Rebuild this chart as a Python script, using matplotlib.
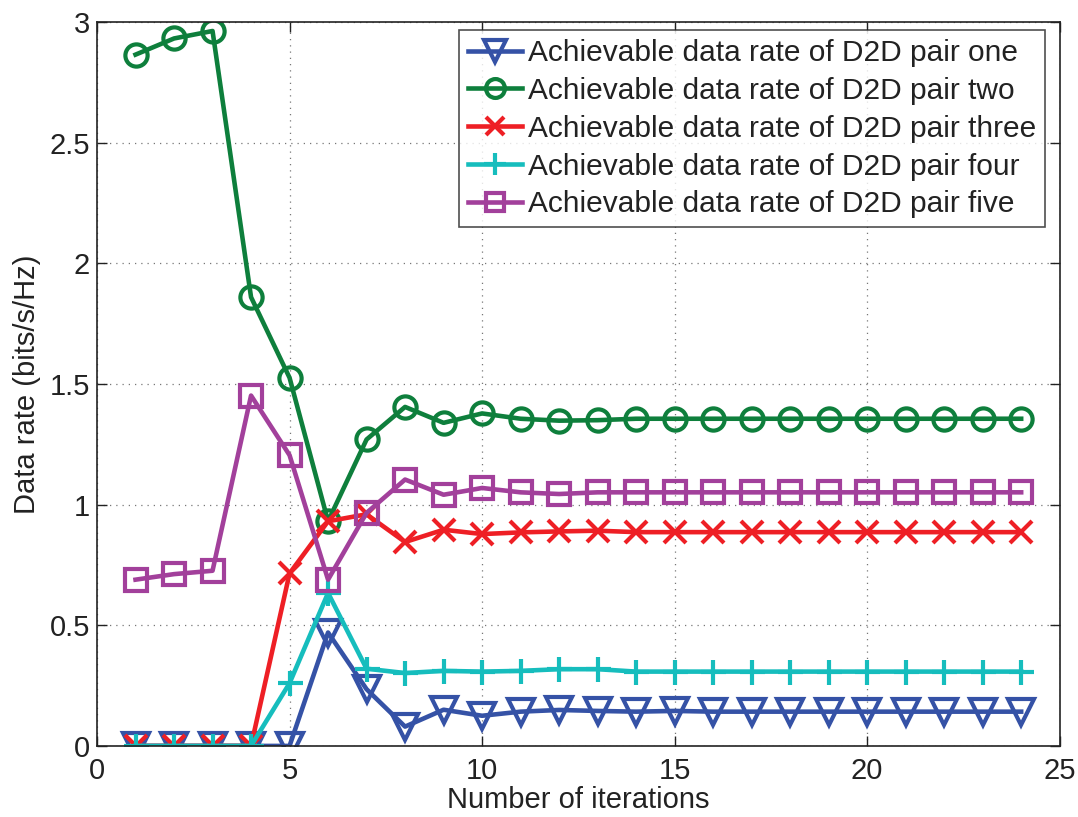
import matplotlib.pyplot as plt

plt.rcParams["font.family"] = ["Liberation Sans", "DejaVu Sans"]

# --- Data ---
iterations = list(range(1, 25))

pair_one = [0, 0, 0, 0, 0, 0.47, 0.235, 0.08, 0.15, 0.125, 0.142, 0.149, 0.145, 0.142,
            0.145, 0.142, 0.142, 0.142, 0.142, 0.142, 0.142, 0.142, 0.142, 0.142]
pair_two = [2.865, 2.932, 2.963, 1.86, 1.526, 0.931, 1.27, 1.405, 1.339, 1.378, 1.356, 1.348,
            1.350, 1.356, 1.356, 1.356, 1.356, 1.356, 1.356, 1.356, 1.356, 1.356, 1.356, 1.356]
pair_three = [0, 0, 0, 0, 0.715, 0.931, 0.96, 0.845, 0.896, 0.878, 0.885, 0.889, 0.892,
              0.886, 0.886, 0.886, 0.886, 0.886, 0.886, 0.886, 0.886, 0.886, 0.886, 0.886]
pair_four = [0, 0, 0, 0, 0.26, 0.634, 0.32, 0.302, 0.311, 0.308, 0.311, 0.318, 0.318,
             0.308, 0.308, 0.308, 0.308, 0.308, 0.308, 0.308, 0.308, 0.308, 0.308, 0.308]
pair_five = [0.689, 0.712, 0.726, 1.452, 1.205, 0.689, 0.966, 1.104, 1.041, 1.069, 1.051,
             1.044, 1.051, 1.051, 1.051, 1.051, 1.051, 1.051, 1.051, 1.051, 1.051, 1.051, 1.051, 1.051]

labels = [
    "Achievable data rate of D2D pair one",
    "Achievable data rate of D2D pair two",
    "Achievable data rate of D2D pair three",
    "Achievable data rate of D2D pair four",
    "Achievable data rate of D2D pair five",
]

fig = plt.figure(figsize=(10.78, 8.17), dpi=100)
ax = fig.add_axes([0.090, 0.087, 0.893, 0.886])

styles = [
    ("#3552A6", "v", 19, pair_one),
    ("#0E7F3C", "o", 16, pair_two),
    ("#EE1F25", "x", 16, pair_three),
    ("#16BDBD", "+", 18, pair_four),
    ("#A2409B", "s", 16, pair_five),
]

for (color, marker, msize, values), label in zip(styles, labels):
    ax.plot(iterations, values, color=color, linewidth=3.3, marker=marker,
            markersize=msize, markeredgewidth=3.0, markerfacecolor="none",
            markeredgecolor=color, label=label)

ax.set_xlim(0, 25)
ax.set_ylim(0, 3)
ax.set_xticks([0, 5, 10, 15, 20, 25])
ax.set_yticks([0, 0.5, 1, 1.5, 2, 2.5, 3])
ax.set_yticklabels(["0", "0.5", "1", "1.5", "2", "2.5", "3"])
ax.tick_params(direction="in", top=True, right=True, labelsize=21, length=7, width=1,
               colors="#222222", pad=5)
ax.tick_params(axis="x", pad=8)
ax.grid(True, linestyle=(0, (1, 4)), color="#777777", linewidth=0.9)
for spine in ax.spines.values():
    spine.set_color("#222222")
    spine.set_linewidth(1.2)

ax.set_xlabel("Number of iterations", fontsize=21, color="#222222", labelpad=1)
ax.set_ylabel("Data rate (bits/s/Hz)", fontsize=21, color="#222222", labelpad=6)

leg = ax.legend(loc="upper right", bbox_to_anchor=(0.9848, 0.989), fontsize=21.5,
                frameon=True, fancybox=False, edgecolor="#222222", handlelength=1.8,
                borderpad=0.3, labelspacing=0.33, handletextpad=0.2, borderaxespad=0,
                markerscale=0.85)
leg.get_frame().set_linewidth(1.2)
for t in leg.get_texts():
    t.set_color("#222222")

fig.savefig("out.png", dpi=100)
